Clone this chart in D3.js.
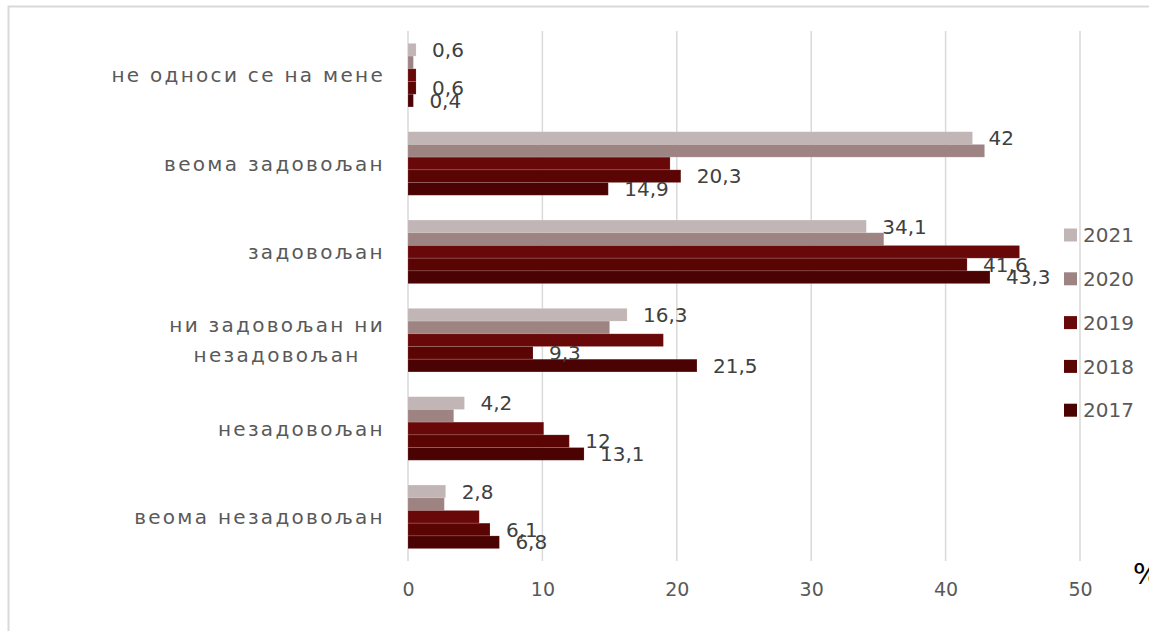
<!DOCTYPE html>
<html>
<head>
<meta charset="utf-8">
<script src="https://cdn.jsdelivr.net/npm/d3@7"></script>
<style>
  html, body { margin: 0; padding: 0; background: #fff; }
  svg { display: block; }
</style>
</head>
<body>
<svg id="chart" width="1149" height="631"></svg>
<script>
const categories = [
  "не односи се на мене",
  "веома задовољан",
  "задовољан",
  "ни задовољан ни\nнезадовољан",
  "незадовољан",
  "веома незадовољан"
];
const years = ["2021", "2020", "2019", "2018", "2017"];
const values2021 = [0.6, 42, 34.1, 16.3, 4.2, 2.8];
const values2020 = [0.4, 42.9, 35.4, 15.0, 3.4, 2.7];
const values2019 = [0.6, 19.5, 45.5, 19.0, 10.1, 5.3];
const values2018 = [0.6, 20.3, 41.6, 9.3, 12, 6.1];
const values2017 = [0.4, 14.9, 43.3, 21.5, 13.1, 6.8];
const labelledYears = ["2021", "2018", "2017"];
const xTicks = [0, 10, 20, 30, 40, 50];
const colors = ["#c1b5b5", "#9e8383", "#680808", "#5a0404", "#4a0202"];

const seriesValues = {"2021": values2021, "2020": values2020, "2019": values2019, "2018": values2018, "2017": values2017};

const svg = d3.select("#chart");
const FONT = "'DejaVu Sans', sans-serif";
const TXT = "#595959";

// chart border
svg.append("rect").attr("x", 8.5).attr("y", 6.5).attr("width", 1300).attr("height", 800)
  .attr("fill", "none").attr("stroke", "#d9d9d9").attr("stroke-width", 2);

const x = d3.scaleLinear().domain([0, 50]).range([408, 1080]);
const y = d3.scaleBand().domain(categories).range([31, 561]).paddingInner(0.281).paddingOuter(0.1405);
const yInner = d3.scaleBand().domain(years).range([0, y.bandwidth()]);
const color = d3.scaleOrdinal().domain(years).range(colors);

// gridlines
svg.append("g").selectAll("line").data(xTicks).join("line")
  .attr("x1", d => x(d)).attr("x2", d => x(d))
  .attr("y1", 31).attr("y2", 561)
  .attr("stroke", "#d9d9d9").attr("stroke-width", 1.5);

// x axis tick labels
const xAxis = d3.axisBottom(x).tickValues(xTicks).tickSize(0).tickPadding(0).tickFormat(d3.format("d"));
const gx = svg.append("g").attr("transform", "translate(0,580)").call(xAxis);
gx.select(".domain").remove();
gx.selectAll("text").attr("font-family", FONT).attr("font-size", 19).attr("fill", TXT).attr("dy", "0.72em").attr("y", 2);

// bars
const groups = svg.append("g").selectAll("g").data(categories).join("g")
  .attr("transform", d => `translate(0,${y(d)})`);

groups.selectAll("rect").data((c, i) => years.map(yr => ({yr, v: seriesValues[yr][i]}))).join("rect")
  .attr("x", x(0))
  .attr("y", d => yInner(d.yr))
  .attr("width", d => x(d.v) - x(0))
  .attr("height", yInner.bandwidth())
  .attr("fill", d => color(d.yr))
  .attr("stroke", "rgba(255,255,255,0.12)").attr("stroke-width", 1);

// data labels
const fmt = v => String(v).replace(".", ",");
groups.selectAll("text.lbl").data((c, i) => labelledYears.map(yr => ({yr, v: seriesValues[yr][i]}))).join("text")
  .attr("class", "lbl")
  .attr("x", d => x(d.v) + 16)
  .attr("y", d => yInner(d.yr) + yInner.bandwidth() / 2)
  .attr("dy", "0.36em")
  .attr("font-family", FONT).attr("font-size", 20).attr("fill", "#404040")
  .text(d => fmt(d.v));

// category labels
const yAxisG = svg.append("g");
categories.forEach(c => {
  const lines = c.split("\n");
  const cy = y(c) + y.bandwidth() / 2;
  const lh = 30;
  const t = yAxisG.append("text")
    .attr("font-family", FONT).attr("font-size", 20).attr("fill", TXT)
    .attr("letter-spacing", 2.3);
  if (lines.length === 1) {
    t.attr("x", 385).attr("y", cy).attr("dy", "0.36em").attr("text-anchor", "end").text(c);
  } else {
    t.attr("text-anchor", "middle");
    const spans = lines.map((ln, k) => t.append("tspan").attr("y", cy + (k - (lines.length - 1) / 2) * lh).attr("dy", "0.36em").text(ln));
    const w = spans[0].node().getComputedTextLength();
    spans.forEach(s => s.attr("x", 385 - w / 2));
  }
});

// legend
const leg = svg.append("g").selectAll("g").data(years).join("g")
  .attr("transform", (d, i) => `translate(1064,${235 + i * 43.8})`);
leg.append("rect").attr("x", 0).attr("y", -6.5).attr("width", 13).attr("height", 13).attr("fill", d => color(d));
leg.append("text").attr("x", 19).attr("y", 0).attr("dy", "0.36em")
  .attr("font-family", FONT).attr("font-size", 20).attr("fill", TXT).text(d => d);

// % unit
svg.append("text").attr("x", 1133).attr("y", 574).attr("dy", "0.36em")
  .attr("font-family", FONT).attr("font-size", 28).attr("fill", "#000").text("%");
</script>
</body>
</html>
